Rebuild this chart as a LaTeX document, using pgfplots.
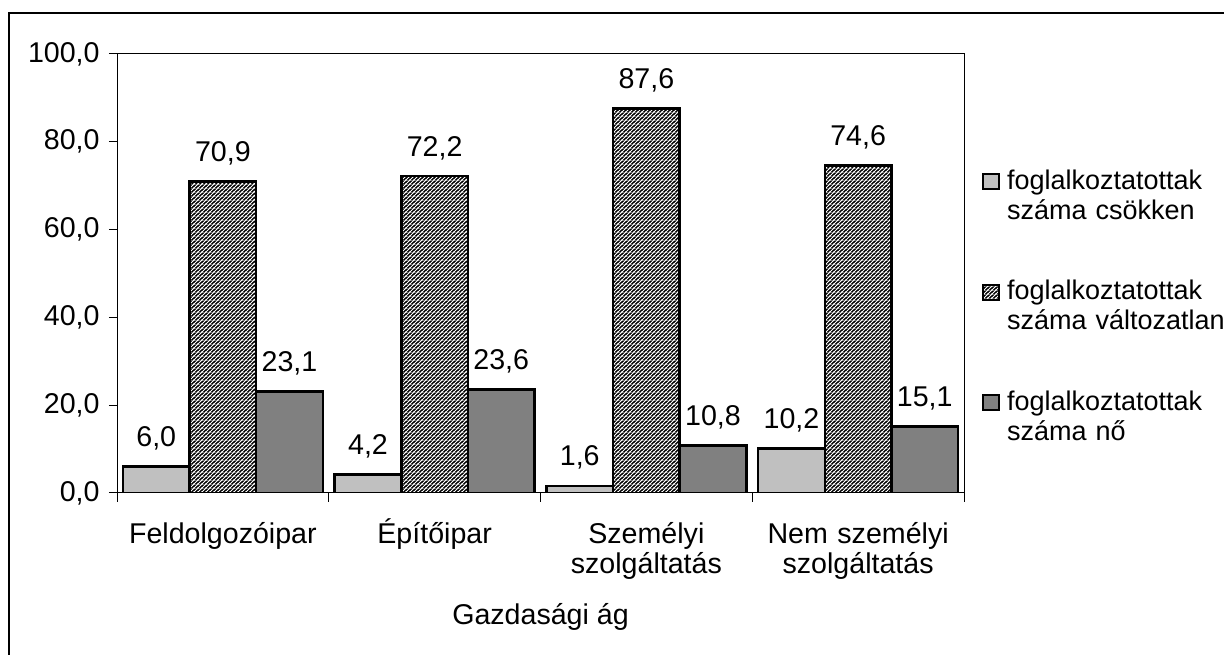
\documentclass[border=0pt]{standalone}
\usepackage{fontspec}
\setmainfont{Liberation Sans}
\usepackage{pgfplots}
\pgfplotsset{compat=1.18}
\usetikzlibrary{patterns}
\newcommand\cf{\fontsize{14.3bp}{15bp}\selectfont}
\newcommand\lf{\fontsize{13.5bp}{15bp}\selectfont}
\definecolor{lightbar}{RGB}{192,192,192}
\definecolor{darkbar}{RGB}{128,128,128}
\pgfdeclarepatterninherentlycolored{darkhatch}{\pgfpointorigin}{\pgfqpoint{1.9bp}{1.9bp}}{\pgfqpoint{1.9bp}{1.9bp}}{%
  \pgfsetfillcolor{black}%
  \pgfpathrectangle{\pgfpointorigin}{\pgfqpoint{1.9bp}{1.9bp}}\pgfusepath{fill}%
  \pgfsetstrokecolor{white}\pgfsetlinewidth{0.4bp}%
  \pgfpathmoveto{\pgfqpoint{-0.4bp}{-0.4bp}}\pgfpathlineto{\pgfqpoint{2.3bp}{2.3bp}}%
  \pgfpathmoveto{\pgfqpoint{1.5bp}{-0.4bp}}\pgfpathlineto{\pgfqpoint{2.3bp}{0.4bp}}%
  \pgfpathmoveto{\pgfqpoint{-0.4bp}{1.5bp}}\pgfpathlineto{\pgfqpoint{0.4bp}{2.3bp}}%
  \pgfusepath{stroke}}
\pgfplotsset{sqlegend/.style={legend image code/.code={\draw[##1, line width=1bp] (0bp,0bp) rectangle (8bp,7.5bp);}}}
\begin{document}
\begin{tikzpicture}
\useasboundingbox (0,0) rectangle (612bp,327.5bp);
\draw[line width=1bp] (4.5bp,-2bp) -- (4.5bp,321bp) -- (614bp,321bp);
\begin{axis}[
  at={(58.5bp,81bp)}, anchor=south west,
  scale only axis, width=423.5bp, height=219.5bp,
  xmin=-0.5, xmax=3.5, ymin=0, ymax=100,
  ytick={0,20,40,60,80,100},
  xtick={0,1,2,3},
  xticklabels={Feldolgozóipar, Építőipar, {Személyi\\szolgáltatás}, {Nem személyi\\szolgáltatás}},
  minor xtick={-0.5,0.5,1.5,2.5,3.5},
  major x tick style={draw=none},
  xtick pos=bottom, ytick pos=left,
  tick align=outside,
  major tick length=4bp, minor tick length=4.5bp,
  tick style={black, line width=0.5bp},
  axis line style={line width=0.5bp},
  /pgf/number format/.cd, use comma, fixed, fixed zerofill, precision=1, assume math mode=true, /pgfplots/.cd,
  ticklabel style={font=\cf},
  yticklabel style={anchor=east, inner sep=0pt, xshift=-4.5bp},
  xticklabel style={anchor=base, text width=150bp, align=center, inner sep=0pt, yshift=-21.5bp},
  xlabel={Gazdasági ág},
  xlabel style={font=\cf, at={(axis description cs:0.5,0)}, anchor=base, inner sep=0pt, yshift=-65.5bp},
  ybar, bar width=0.3147,
  nodes near coords,
  nodes near coords style={font=\cf, anchor=base, inner sep=0pt, yshift=10bp, black},
  legend style={at={(rel axis cs:1.02125,0.7426)}, anchor=north west, draw=none, fill=none,
    inner sep=0pt, outer sep=0pt, row sep=44bp, column sep=3.5bp, font=\lf,
    cells={anchor=base west}, yshift=-1.3bp,
    nodes={text width=110bp, align=left, inner sep=0pt}},
]
\addplot[fill=lightbar, draw=black, line width=1.3bp, bar shift=-0.3147, sqlegend]
  coordinates {(0,6.0) (1,4.2) (2,1.6) (3,10.2)};
\addlegendentry{foglalkoztatottak\\száma csökken}
\addplot[pattern=darkhatch, draw=black, line width=1.3bp, bar shift=0, sqlegend]
  coordinates {(0,70.9) (1,72.2) (2,87.6) (3,74.6)};
\addlegendentry{foglalkoztatottak\\száma változatlan}
\addplot[fill=darkbar, draw=black, line width=1.3bp, bar shift=0.3147, sqlegend]
  coordinates {(0,23.1) (1,23.6) (2,10.8) (3,15.1)};
\addlegendentry{foglalkoztatottak\\száma nő}
\end{axis}
\end{tikzpicture}
\end{document}
